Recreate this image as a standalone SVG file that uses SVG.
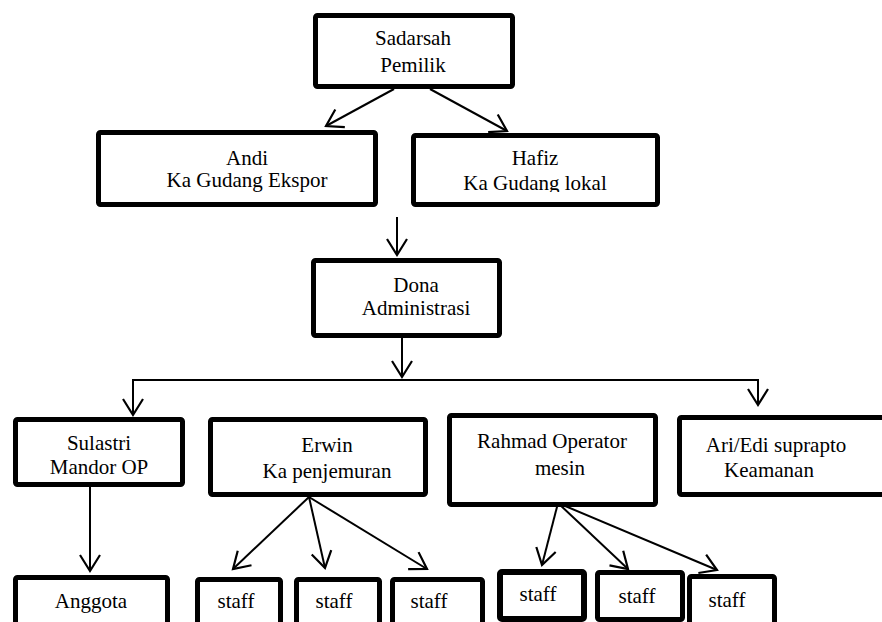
<svg xmlns="http://www.w3.org/2000/svg" width="882" height="622" viewBox="0 0 882 622">
<style>
.box{fill:#fff;stroke:#000;stroke-width:5;stroke-linejoin:round}
text{font-family:"Liberation Serif","Times New Roman",Times,"DejaVu Serif",serif;font-size:21px;fill:#000;text-anchor:middle}
.c{fill:none;stroke:#000;stroke-width:2}
</style>
<defs>
<marker id="ah" markerUnits="userSpaceOnUse" viewBox="-18 -12 20 24" refX="0" refY="0" markerWidth="20" markerHeight="24" orient="auto" overflow="visible">
<path d="M-16,-10 L0,0 L-16,10" fill="none" stroke="#000" stroke-width="2.2"/>
</marker>
<clipPath id="clipHafiz"><rect x="411" y="133" width="249" height="59"/></clipPath>
<clipPath id="clipSulastri"><rect x="13" y="417" width="172" height="57"/></clipPath>
</defs>
<rect width="882" height="622" fill="#fff"/>
<g id="connectors">
<line class="c" x1="394" y1="89" x2="326" y2="126" marker-end="url(#ah)"/>
<line class="c" x1="430" y1="89" x2="507" y2="131" marker-end="url(#ah)"/>
<line class="c" x1="397" y1="217" x2="397" y2="255" marker-end="url(#ah)"/>
<line class="c" x1="402" y1="338" x2="402" y2="377" marker-end="url(#ah)"/>
<line class="c" x1="132" y1="380" x2="759" y2="380"/>
<line class="c" x1="133" y1="380" x2="133" y2="415" marker-end="url(#ah)"/>
<line class="c" x1="758" y1="380" x2="758" y2="405" marker-end="url(#ah)"/>
<line class="c" x1="90" y1="487" x2="90" y2="571" marker-end="url(#ah)"/>
<line class="c" x1="309" y1="497" x2="233" y2="569" marker-end="url(#ah)"/>
<line class="c" x1="309" y1="497" x2="325" y2="568" marker-end="url(#ah)"/>
<line class="c" x1="309" y1="497" x2="427" y2="569" marker-end="url(#ah)"/>
<line class="c" x1="558" y1="503" x2="542" y2="565" marker-end="url(#ah)"/>
<line class="c" x1="558" y1="503" x2="628" y2="569" marker-end="url(#ah)"/>
<line class="c" x1="558" y1="503" x2="717" y2="570" marker-end="url(#ah)"/>
</g>
<g id="sadarsah"><rect class="box" x="315.5" y="15.5" width="197" height="71" rx="2"/><text x="413" y="45">Sadarsah</text><text x="413" y="72">Pemilik</text></g>
<g id="andi"><rect class="box" x="98.5" y="132.5" width="277" height="72" rx="2"/><text x="247" y="165">Andi</text><text x="247" y="187">Ka Gudang Ekspor</text></g>
<g id="hafiz"><rect class="box" x="413.5" y="135.5" width="244" height="69" rx="2"/><g clip-path="url(#clipHafiz)"><text x="535" y="165">Hafiz</text><text x="535" y="190">Ka Gudang lokal</text></g></g>
<g id="dona"><rect class="box" x="313.5" y="260.5" width="186" height="75" rx="2"/><text x="416" y="292">Dona</text><text x="416" y="315">Administrasi</text></g>
<g id="sulastri"><rect class="box" x="15.5" y="419.5" width="167" height="65" rx="2"/><g clip-path="url(#clipSulastri)"><text x="99" y="450">Sulastri</text><text x="99" y="474">Mandor OP</text></g></g>
<g id="erwin"><rect class="box" x="210.5" y="419.5" width="215" height="75" rx="2"/><text x="327" y="452">Erwin</text><text x="327" y="478">Ka penjemuran</text></g>
<g id="rahmad"><rect class="box" x="449.5" y="415.5" width="206" height="89" rx="2"/><text x="552" y="448">Rahmad Operator</text><text x="560" y="475">mesin</text></g>
<g id="ari"><rect class="box" x="679.5" y="417.5" width="230" height="77" rx="2"/><text x="776" y="452">Ari/Edi suprapto</text><text x="769" y="477">Keamanan</text></g>
<g id="anggota"><rect class="box" x="15.5" y="577.5" width="152" height="80" rx="2"/><text x="91" y="608">Anggota</text></g>
<g id="staff1"><rect class="box" x="197.5" y="579.5" width="83" height="80" rx="2"/><text x="236" y="608">staff</text></g>
<g id="staff2"><rect class="box" x="296.5" y="579.5" width="83" height="80" rx="2"/><text x="334" y="608">staff</text></g>
<g id="staff3"><rect class="box" x="392.5" y="579.5" width="90" height="80" rx="2"/><text x="429" y="608">staff</text></g>
<g id="staff4"><rect class="box" x="500" y="572" width="84" height="47" rx="2" style="stroke-width:6"/><text x="538" y="601">staff</text></g>
<g id="staff5"><rect class="box" x="597.5" y="572.5" width="85" height="47" rx="2"/><text x="637" y="603">staff</text></g>
<g id="staff6"><rect class="box" x="689.5" y="576.5" width="85" height="80" rx="2"/><text x="727" y="607">staff</text></g>
</svg>
